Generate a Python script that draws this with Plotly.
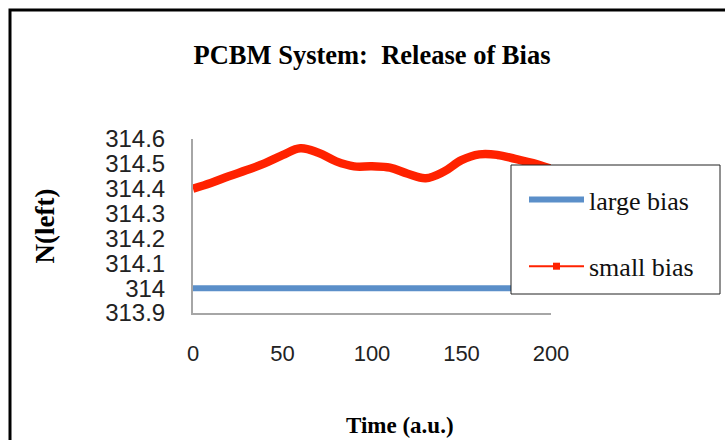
import plotly.graph_objects as go

# Simulation output: particle count on the left side over time
time_small = [0, 10, 20, 30, 40, 50, 60, 70, 80, 90, 100,
              110, 120, 130, 140, 150, 160, 170, 180, 190, 200]
n_left_small = [314.40, 314.423, 314.45, 314.475, 314.502, 314.535, 314.563,
                314.545, 314.51, 314.49, 314.49, 314.485, 314.46, 314.442,
                314.468, 314.515, 314.538, 314.536, 314.52, 314.503, 314.48]

time_large = [0, 50, 100, 150, 200]
n_left_large = [314.0, 314.0, 314.0, 314.0, 314.0]

y_ticks = [313.9, 314.0, 314.1, 314.2, 314.3, 314.4, 314.5, 314.6]
y_ticklabels = ["313.9", "314", "314.1", "314.2", "314.3", "314.4", "314.5", "314.6"]
x_ticks = [0, 50, 100, 150, 200]

BLUE = "#5B8FC9"
RED = "#FF2200"
SERIF = "Liberation Serif, Times New Roman, serif"
SANS = "Liberation Sans, Arial, sans-serif"

W, H = 725, 440
L, R, T, B = 193, 174, 139, 127
pw, ph = W - L - R, H - T - B


def px_x(px):
    return (px - L) / pw


def px_y(py):
    return (H - B - py) / ph


fig = go.Figure()

fig.add_trace(go.Scatter(
    x=time_large, y=n_left_large, name="large bias", mode="lines",
    line=dict(color=BLUE, width=6), legendgroup="a",
))
fig.add_trace(go.Scatter(
    x=time_small, y=n_left_small, name="small bias", mode="lines",
    line=dict(color=RED, width=8.5, shape="spline", smoothing=1.1),
    showlegend=False, legendgroup="b",
))
# legend entry for the small-bias series (thin line with square marker)
fig.add_trace(go.Scatter(
    x=[None], y=[None], name="small bias", mode="lines+markers",
    line=dict(color=RED, width=2), marker=dict(symbol="square", size=7, color=RED),
    legendgroup="b",
))

shapes = [
    # outer chart frame
    dict(type="rect", xref="paper", yref="paper",
         x0=px_x(10), x1=px_x(900), y0=px_y(700), y1=px_y(10),
         line=dict(color="black", width=3), fillcolor="rgba(0,0,0,0)", layer="below"),
    # legend box
    dict(type="rect", xref="paper", yref="paper",
         x0=px_x(511), x1=px_x(720), y0=px_y(294), y1=px_y(165),
         line=dict(color="#222222", width=1), fillcolor="white", layer="above"),
]

fig.update_layout(
    width=W, height=H,
    margin=dict(l=L, r=R, t=T, b=B, autoexpand=False),
    paper_bgcolor="white", plot_bgcolor="white",
    title=dict(text="<b>PCBM System:  Release of Bias</b>",
               font=dict(family=SERIF, size=26.5, color="black"),
               xref="container", yref="container",
               x=372 / W, y=1 - 55 / H, xanchor="center", yanchor="middle"),
    xaxis=dict(range=[0, 200], tickvals=x_ticks, showgrid=False, zeroline=False,
               showline=True, linecolor="#A6A6A6", linewidth=2, ticks="",
               tickfont=dict(family=SANS, size=22, color="#222222"),
               ticklabelstandoff=20),
    yaxis=dict(range=[313.9, 314.6], tickvals=y_ticks, ticktext=y_ticklabels,
               showgrid=False, zeroline=False,
               showline=True, linecolor="#A6A6A6", linewidth=2, ticks="",
               tickfont=dict(family=SANS, size=24, color="#222222"),
               ticklabelstandoff=21,
               title=dict(text="<b>N(left)</b>", font=dict(family=SERIF, size=27, color="black"),
                          standoff=43)),
    showlegend=True,
    legend=dict(x=px_x(524), y=px_y(176), xanchor="left", yanchor="top",
                bgcolor="rgba(0,0,0,0)", borderwidth=0,
                font=dict(family=SERIF, size=26, color="#111111"),
                tracegroupgap=30, itemwidth=55),
    shapes=shapes,
    annotations=[
        dict(text="<b>Time (a.u.)</b>", xref="paper", yref="paper",
             x=px_x(400), y=px_y(425), xanchor="center", yanchor="middle",
             showarrow=False, font=dict(family=SERIF, size=23, color="black")),
    ],
)

fig.write_html("out.html")
